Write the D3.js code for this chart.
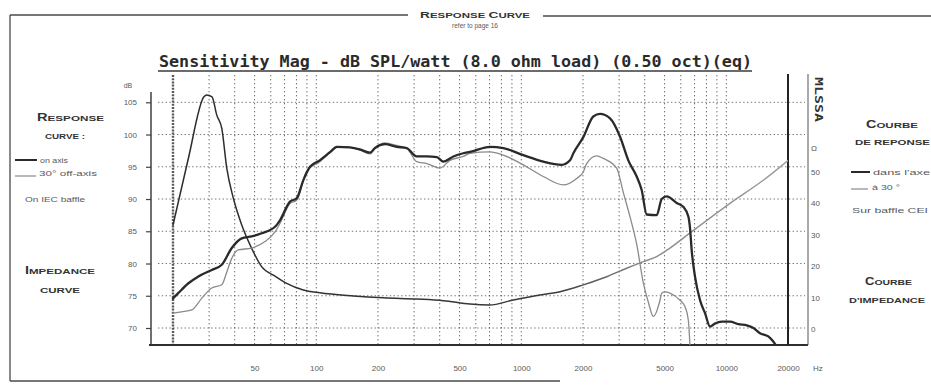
<!DOCTYPE html>
<html>
<head>
<meta charset="utf-8">
<script src="https://cdn.jsdelivr.net/npm/d3@7"></script>
<style>
  html, body { margin: 0; padding: 0; background: #fff; }
  svg { display: block; }
  .sans { font-family: "Liberation Sans", Arial, "DejaVu Sans", sans-serif; }
</style>
</head>
<body>
<svg id="chart" width="931" height="392"></svg>
<script>
// ---- Measured data -------------------------------------------------------
// On-axis response (dB SPL / watt)
const onAxisFreq = [20, 21.2, 23.7, 26.6, 30.9, 34.6, 38.7, 43.3, 48.4, 54.1, 62.9, 66.5, 74.4, 80.2, 86.4, 93.2,
  104, 117, 126, 146, 163, 183, 193, 216, 247, 276, 309, 346, 387, 417, 466, 521, 562, 703, 817,
  1023, 1280, 1575, 1729, 1795, 2007, 2245, 2421, 2710, 3029, 3327, 3655, 3866, 4090, 4577, 4841,
  5119, 5727, 6166, 6530, 6654, 6782, 7034, 7448, 7875, 8337, 8814, 9509, 10424, 11448, 12590,
  13558, 14600, 16030, 16950, 17620, 18400];
const onAxisDb = [74.6, 75.4, 76.9, 78.0, 79.0, 79.8, 82.4, 83.9, 84.2, 84.7, 85.7, 86.7, 89.6, 90.1, 92.9, 95.0,
  96.0, 97.3, 98.1, 98.0, 97.7, 97.2, 97.9, 98.5, 98.1, 97.9, 96.6, 96.6, 96.5, 95.8, 96.6, 97.1, 97.3, 98.1, 97.9,
  96.8, 95.8, 95.3, 96.0, 97.1, 99.6, 102.8, 103.2, 102.5, 99.7, 96.0, 93.5, 91.4, 87.6, 87.5, 90.0,
  90.4, 89.4, 88.8, 87.3, 85.5, 82.0, 78.0, 74.3, 72.3, 70.2, 70.7, 71.0, 71.0, 70.6, 70.4,
  70.0, 69.2, 68.7, 67.9, 67.1, 66.0];

// 30° off-axis response (dB SPL / watt)
const offAxisFreq = [20, 22.0, 24.7, 27.6, 30.9, 34.6, 36.6, 38.7, 41.6, 48.4, 56.2, 62.9, 66.5, 74.4, 80.2, 89.7,
  104, 117, 126, 146, 163, 183, 193, 216, 247, 276, 309, 346, 401, 449, 521, 562, 703, 817,
  1023, 1280, 1604, 1863, 2007, 2084, 2333, 2513, 2920, 3146, 3388, 3655, 3938, 4167, 4407, 4750,
  4841, 5024, 5309, 5945, 6293, 6530, 6700];
const offAxisDb = [72.3, 72.5, 72.8, 74.6, 76.2, 76.7, 78.7, 80.8, 82.1, 82.4, 83.4, 84.9, 86.2, 89.3, 89.8, 94.3,
  95.8, 97.2, 98.0, 98.0, 97.6, 97.0, 97.8, 98.7, 98.3, 97.9, 95.8, 95.5, 94.8, 96.0, 96.6, 97.1, 97.3, 96.8,
  95.3, 93.5, 92.2, 93.2, 94.2, 95.5, 96.7, 96.3, 94.8, 91.0, 87.3, 83.0, 77.0, 74.0, 71.8, 74.3,
  75.4, 75.6, 75.4, 74.3, 73.3, 71.2, 65.0];

// Impedance (ohm)
const impedanceFreq = [20, 23.7, 28.3, 29.2, 31.0, 32.7, 34.6, 36.6, 39.4, 43.3, 48.4, 54.1, 62.9, 71.7, 86.4,
  104, 152, 212, 309, 417, 562, 700, 914, 1234, 1545, 2007, 2610, 3267, 3938, 4577, 5309, 6654,
  10424, 15200, 20000];
const impedanceOhm = [33.0, 53.8, 73.7, 74.3, 73.7, 67.9, 63.7, 51.0, 41.5, 33.0, 25.6, 19.8, 16.8, 14.5, 12.4,
  11.5, 10.5, 9.9, 9.5, 9.0, 7.9, 7.6, 9.2, 10.8, 11.8, 14.0, 16.6, 19.3, 21.4, 23.0, 25.7, 30.5,
  39.9, 47.3, 53.5];

// ---- Axis ticks ----------------------------------------------------------
const dbTicks = [70, 75, 80, 85, 90, 95, 100, 105];
const ohmTicks = [0, 10, 20, 30, 40, 50];
const freqTickLabels = [50, 100, 200, 500, 1000, 2000, 5000, 10000, 20000];
const gridFreqs = [20, 30, 40, 50, 60, 70, 80, 90, 100, 200, 300, 400, 500, 600, 700, 800, 900,
  1000, 2000, 3000, 4000, 5000, 6000, 7000, 8000, 9000, 10000];

// ---- Layout --------------------------------------------------------------
const svg = d3.select("#chart");
const plotTop = 73, plotBottom = 345, plotLeft = 173, plotRight = 788;

const x = d3.scaleLog().domain([20, 20000]).range([plotLeft, plotRight]);
const y = d3.scaleLinear().domain([70, 105]).range([328, 102.3]);
const yZ = d3.scaleLinear().domain([0, 50]).range([329, 171.5]);

const ink = "#333";
const soft = "#5a5a5a";

svg.append("rect").attr("width", 931).attr("height", 392).attr("fill", "#fff");

// ---- Page frame and header ----------------------------------------------
const frame = svg.append("g").attr("stroke", "#4a4a4a").attr("fill", "none");
frame.append("line").attr("x1", 10).attr("y1", 15).attr("x2", 408).attr("y2", 15).attr("stroke-width", 1.6);
frame.append("line").attr("x1", 543).attr("y1", 16).attr("x2", 931).attr("y2", 16).attr("stroke-width", 1.6);
frame.append("line").attr("x1", 10).attr("y1", 15).attr("x2", 10).attr("y2", 381).attr("stroke-width", 1.3);
frame.append("line").attr("x1", 10).attr("y1", 381).attr("x2", 560).attr("y2", 381).attr("stroke-width", 1.6);

// small-caps style label helper
function capsLabel(g, xPos, yPos, parts, len, anchor) {
  const t = g.append("text").attr("class", "sans").attr("x", xPos).attr("y", yPos)
    .attr("font-weight", "bold").attr("fill", ink).attr("text-anchor", anchor || "start");
  parts.forEach(p => t.append("tspan").attr("font-size", p[1]).text(p[0]));
  if (len) t.attr("textLength", len).attr("lengthAdjust", "spacingAndGlyphs");
  return t;
}

const header = svg.append("g");
capsLabel(header, 420, 18, [["R", 9], ["ESPONSE ", 7.5], ["C", 9], ["URVE", 7.5]], 110);
header.append("text").attr("class", "sans").attr("x", 475).attr("y", 27.5)
  .attr("text-anchor", "middle").attr("font-size", 6.5).attr("fill", soft).text("refer to page 16");

// ---- Chart title ---------------------------------------------------------
svg.append("text")
  .attr("x", 159).attr("y", 67)
  .attr("font-family", "'DejaVu Sans Mono', 'Liberation Mono', monospace")
  .attr("font-weight", "bold").attr("font-size", 15).attr("fill", "#2a2a2a")
  .attr("textLength", 593).attr("lengthAdjust", "spacingAndGlyphs")
  .text("Sensitivity Mag - dB SPL/watt (8.0 ohm load) (0.50 oct)(eq)");
svg.append("line").attr("x1", 158).attr("x2", 752).attr("y1", 71).attr("y2", 71)
  .attr("stroke", "#3a3a3a").attr("stroke-width", 1.4);

// ---- Grid ----------------------------------------------------------------
const grid = svg.append("g");
grid.selectAll("line.v").data(gridFreqs).join("line")
  .attr("class", "v")
  .attr("x1", d => x(d)).attr("x2", d => x(d))
  .attr("y1", plotTop + 2).attr("y2", plotBottom)
  .attr("stroke", "#3c3c3c")
  .attr("stroke-width", d => d === 20 ? 2.4 : 1)
  .attr("stroke-dasharray", d => d === 20 ? "2,1.2" : "1.4,2.6")
  .attr("opacity", d => d === 20 ? 0.85 : 0.75);
grid.selectAll("line.h").data(dbTicks).join("line")
  .attr("class", "h")
  .attr("x1", 158).attr("x2", 805)
  .attr("y1", d => y(d)).attr("y2", d => y(d))
  .attr("stroke", "#3c3c3c").attr("stroke-width", 1)
  .attr("stroke-dasharray", "1.4,2.4").attr("opacity", 0.7);

// ---- Axes ----------------------------------------------------------------
const axisFont = g => g.selectAll("text")
  .attr("class", "sans").attr("font-size", 8).attr("fill", soft);

const leftAxis = svg.append("g").attr("transform", "translate(151,0)")
  .call(d3.axisLeft(y).tickValues(dbTicks).tickSize(5).tickPadding(9))
  .call(g => g.select(".domain").remove())
  .call(g => g.selectAll(".tick line").attr("stroke", "#444").attr("stroke-width", 1.2))
  .call(axisFont);
svg.append("line").attr("x1", 151).attr("x2", 151).attr("y1", 92).attr("y2", plotBottom)
  .attr("stroke", "#333").attr("stroke-width", 1.4);
svg.append("text").attr("class", "sans").attr("x", 128).attr("y", 88)
  .attr("text-anchor", "middle").attr("font-size", 7).attr("fill", soft).text("dB");

const bottomAxis = svg.append("g").attr("transform", `translate(0,${plotBottom})`)
  .call(d3.axisBottom(x).tickValues(freqTickLabels).tickFormat(d3.format("d")).tickSize(0).tickPadding(20))
  .call(g => g.select(".domain").remove())
  .call(axisFont);
svg.append("line").attr("x1", 149).attr("x2", 808).attr("y1", plotBottom).attr("y2", plotBottom)
  .attr("stroke", "#2e2e2e").attr("stroke-width", 2);
svg.append("text").attr("class", "sans").attr("x", 813).attr("y", 371)
  .attr("font-size", 8).attr("fill", soft).text("Hz");

// right-hand frame lines and impedance axis
svg.append("line").attr("x1", 788).attr("x2", 788).attr("y1", 74).attr("y2", plotBottom)
  .attr("stroke", "#222").attr("stroke-width", 2);
svg.append("line").attr("x1", 808).attr("x2", 808).attr("y1", 74).attr("y2", plotBottom)
  .attr("stroke", "#555").attr("stroke-width", 1);
svg.append("g").attr("transform", "translate(808,0)")
  .call(d3.axisRight(yZ).tickValues(ohmTicks).tickSize(0).tickPadding(3))
  .call(g => g.select(".domain").remove())
  .call(axisFont);
svg.append("text").attr("class", "sans").attr("x", 811).attr("y", 151)
  .attr("font-size", 8).attr("fill", soft).text("Ω");
svg.append("text")
  .attr("transform", "translate(815,77) rotate(90)")
  .attr("font-family", "'DejaVu Sans Mono', monospace").attr("font-weight", "bold")
  .attr("font-size", 10).attr("fill", "#333")
  .attr("textLength", 45).attr("lengthAdjust", "spacingAndGlyphs")
  .text("MLSSA");

// ---- Curves --------------------------------------------------------------
const defs = svg.append("defs");
defs.append("clipPath").attr("id", "plot-clip").append("rect")
  .attr("x", plotLeft - 2).attr("y", plotTop).attr("width", plotRight - plotLeft + 2).attr("height", plotBottom - plotTop);
const grad = defs.append("linearGradient").attr("id", "imp-grad")
  .attr("gradientUnits", "userSpaceOnUse")
  .attr("x1", plotLeft).attr("x2", plotRight).attr("y1", 0).attr("y2", 0);
grad.append("stop").attr("offset", 0).attr("stop-color", "#2c2c2c");
grad.append("stop").attr("offset", (x(1500) - plotLeft) / (plotRight - plotLeft)).attr("stop-color", "#3a3a3a");
grad.append("stop").attr("offset", (x(4000) - plotLeft) / (plotRight - plotLeft)).attr("stop-color", "#8c8c8c");
grad.append("stop").attr("offset", 1).attr("stop-color", "#9a9a9a");

const curves = svg.append("g").attr("clip-path", "url(#plot-clip)").attr("fill", "none")
  .attr("stroke-linejoin", "round").attr("stroke-linecap", "round");

const dbLine = d3.line().x(d => x(d[0])).y(d => y(d[1])).curve(d3.curveMonotoneX);
const ohmLine = d3.line().x(d => x(d[0])).y(d => yZ(d[1])).curve(d3.curveMonotoneX);

curves.append("path")
  .attr("d", ohmLine(d3.zip(impedanceFreq, impedanceOhm)))
  .attr("stroke", "url(#imp-grad)").attr("stroke-width", 1.5);
curves.append("path")
  .attr("d", dbLine(d3.zip(offAxisFreq, offAxisDb)))
  .attr("stroke", "#8a8a8a").attr("stroke-width", 1.3);
curves.append("path")
  .attr("d", dbLine(d3.zip(onAxisFreq, onAxisDb)))
  .attr("stroke", "#2a2a2a").attr("stroke-width", 2.3);

// ---- Side legends --------------------------------------------------------
const side = svg.append("g");
function plain(xPos, yPos, txt, len) {
  const t = side.append("text").attr("class", "sans").attr("x", xPos).attr("y", yPos)
    .attr("font-size", 8).attr("fill", soft).text(txt);
  if (len) t.attr("textLength", len).attr("lengthAdjust", "spacingAndGlyphs");
  return t;
}
function swatch(x1, x2, yPos, color, w) {
  side.append("line").attr("x1", x1).attr("x2", x2).attr("y1", yPos).attr("y2", yPos)
    .attr("stroke", color).attr("stroke-width", w);
}

// English
capsLabel(side, 37, 121, [["R", 10], ["ESPONSE", 8]], 67);
capsLabel(side, 45, 139, [["CURVE :", 8]], 40);
swatch(15, 37, 160, "#2a2a2a", 2);
plain(40, 163, "on axis", 28);
swatch(15, 36, 176, "#8a8a8a", 1.2);
plain(39, 176, "30° off-axis", 58);
plain(25, 202, "On IEC baffle", 60);
capsLabel(side, 25, 274, [["I", 10], ["MPEDANCE", 8]], 70);
capsLabel(side, 40, 293, [["CURVE", 8]], 40);

// French
capsLabel(side, 866, 128, [["C", 10], ["OURBE", 8]], 52);
capsLabel(side, 855, 145, [["DE REPONSE", 8]], 75);
swatch(851, 870, 172, "#2a2a2a", 2);
plain(873, 175, "dans l'axe", 57);
swatch(851, 868, 189, "#8a8a8a", 1.2);
plain(872, 190, "à 30 °", 28);
plain(852, 213, "Sur baffle CEI", 76);
capsLabel(side, 865, 285, [["C", 10], ["OURBE", 8]], 47);
capsLabel(side, 849, 303, [["D'IMPEDANCE", 8]], 76);
</script>
</body>
</html>
